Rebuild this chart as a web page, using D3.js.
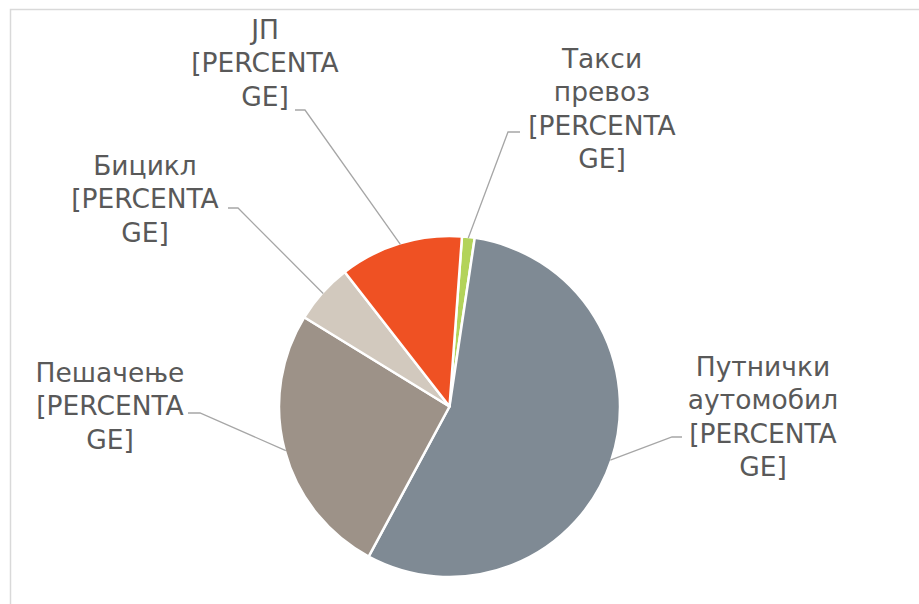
<!DOCTYPE html>
<html>
<head>
<meta charset="utf-8">
<script src="https://cdn.jsdelivr.net/npm/d3@7"></script>
<style>
  body { margin: 0; background: #fff; }
  svg text { font-family: "DejaVu Sans", Verdana, sans-serif; fill: #595959; }
</style>
</head>
<body>
<svg width="919" height="604"></svg>
<script>
// slice order, clockwise from the top
const categories = ["Такси превоз", "Путнички аутомобил", "Пешачење", "Бицикл", "ЈП"];
const shares = [1.2, 55.5, 25.9, 5.7, 11.7];
const colors = ["#b3d35a", "#7f8a94", "#9d9288", "#d2c9be", "#ef5123"];
const labelLines = [
  ["Такси", "превоз", "[PERCENTA", "GE]"],
  ["Путнички", "аутомобил", "[PERCENTA", "GE]"],
  ["Пешачење", "[PERCENTA", "GE]"],
  ["Бицикл", "[PERCENTA", "GE]"],
  ["ЈП", "[PERCENTA", "GE]"]
];

// label placement (text centre, first baseline, leader elbow, short tail end)
const labelLayout = [
  { x: 602, y: 68, elbow: [508, 132], tail: [520, 132] },
  { x: 763, y: 376, elbow: [672, 437], tail: [682, 437] },
  { x: 110, y: 382, elbow: [200, 413], tail: [188, 413] },
  { x: 145, y: 175, elbow: [238, 208], tail: [228, 208] },
  { x: 265, y: 39, elbow: [305, 110], tail: [295, 110] }
];

const svg = d3.select("svg");
const cx = 449.5, cy = 406.5, radius = 170.5;
const lineStep = 33.3;

// chart border
svg.append("rect")
  .attr("x", 10.5).attr("y", 9.5)
  .attr("width", 1000).attr("height", 1000)
  .attr("fill", "none")
  .attr("stroke", "#d9d9d9")
  .attr("stroke-width", 1.5);

const data = categories.map((c, i) => ({ name: c, value: shares[i], i }));

const start = 4.2 * Math.PI / 180;
const pie = d3.pie().sort(null).value(d => d.value)
  .startAngle(start).endAngle(start + 2 * Math.PI);
const arcs = pie(data);

const arc = d3.arc().innerRadius(0).outerRadius(radius);

const g = svg.append("g").attr("transform", `translate(${cx},${cy})`);

g.selectAll("path")
  .data(arcs)
  .enter()
  .append("path")
  .attr("d", arc)
  .attr("fill", d => colors[d.data.i])
  .attr("stroke", "#fff")
  .attr("stroke-width", 2.5)
  .attr("stroke-linejoin", "round");

// leader lines
g.selectAll("polyline")
  .data(arcs)
  .enter()
  .append("polyline")
  .attr("points", d => {
    const lay = labelLayout[d.data.i];
    const mid = (d.startAngle + d.endAngle) / 2;
    const p = [Math.sin(mid) * (radius - 1), -Math.cos(mid) * (radius - 1)];
    const e = [lay.elbow[0] - cx, lay.elbow[1] - cy];
    const t = [lay.tail[0] - cx, lay.tail[1] - cy];
    return [p, e, t].map(q => q.join(",")).join(" ");
  })
  .attr("fill", "none")
  .attr("stroke", "#a6a6a6")
  .attr("stroke-width", 1.3);

// labels
const labels = svg.selectAll(".label")
  .data(arcs)
  .enter()
  .append("text")
  .attr("class", "label")
  .attr("text-anchor", "middle")
  .style("font-size", "26.5px");

labels.each(function(d) {
  const lay = labelLayout[d.data.i];
  d3.select(this).selectAll("tspan")
    .data(labelLines[d.data.i])
    .enter()
    .append("tspan")
    .attr("x", lay.x)
    .attr("y", (s, k) => lay.y + k * lineStep)
    .text(s => s);
});
</script>
</body>
</html>
